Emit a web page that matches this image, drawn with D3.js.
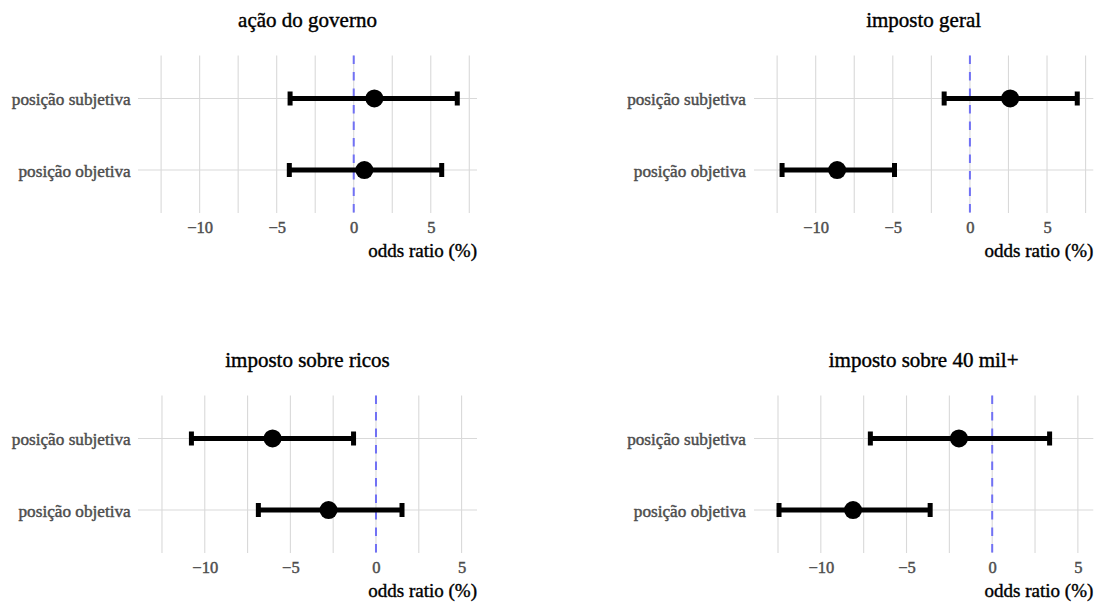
<!DOCTYPE html>
<html>
<head>
<meta charset="utf-8">
<script src="https://cdn.jsdelivr.net/npm/d3@7"></script>
<style>
  html, body { margin: 0; padding: 0; background: #ffffff; }
  svg text { font-family: "Liberation Serif", "DejaVu Serif", serif; }
</style>
</head>
<body>
<svg id="chart" width="1099" height="607"></svg>
<script>
// Facet titles (one small chart per policy question)
const panelTitles = ["ação do governo", "imposto geral", "imposto sobre ricos", "imposto sobre 40 mil+"];
// Predictor categories, top to bottom
const positions = ["posição subjetiva", "posição objetiva"];

// Estimates and 95% interval bounds, in %, per panel
const subjEstimate = [1.34, 2.61, -6.04, -1.94];
const subjLower    = [-4.13, -1.67, -10.78, -7.11];
const subjUpper    = [6.72, 6.96, -1.31, 3.35];
const objEstimate  = [0.69, -8.61, -2.77, -8.12];
const objLower     = [-4.18, -12.18, -6.87, -12.44];
const objUpper     = [5.71, -4.89, 1.52, -3.62];

// x limits per panel (before 5% expansion)
const xLimits = [[-13, 7], [-13, 7], [-13, 5], [-13, 5]];
const majorTicks = [-10, -5, 0, 5];
const minorTicks = [-12.5, -7.5, -2.5, 2.5, 7.5];
const axisTitle = "odds ratio (%)";

const svg = d3.select("#chart");

// Panel frames: left/right columns, top/bottom rows
const colX = [[138, 477], [754, 1093.3]];
const rowY = [[55.5, 213], [395.5, 553]];
const labelRight = [130.7, 746];

// slightly heavier text strokes
function weigh(sel, color, w) {
  return sel.attr("fill", color).attr("stroke", color).attr("stroke-width", w)
    .attr("paint-order", "stroke");
}

panelTitles.forEach((title, i) => {
  const col = i % 2, row = Math.floor(i / 2);
  const [x0, x1] = colX[col];
  const [y0, y1] = rowY[row];
  const lim = xLimits[i];
  const pad = (lim[1] - lim[0]) * 0.05;
  const x = d3.scaleLinear().domain([lim[0] - pad, lim[1] + pad]).range([x0, x1]);
  const y = d3.scalePoint().domain(positions).range([y0, y1]).padding(0.6);
  const g = svg.append("g");

  const inDomain = v => v >= x.domain()[0] && v <= x.domain()[1];

  // grid
  g.selectAll(".vgrid").data(majorTicks.concat(minorTicks).filter(inDomain)).join("line")
    .attr("x1", d => x(d)).attr("x2", d => x(d))
    .attr("y1", y0).attr("y2", y1)
    .attr("stroke", "#d9d9d9").attr("stroke-width", 1.1);
  g.selectAll(".hgrid").data(positions).join("line")
    .attr("x1", x0).attr("x2", x1)
    .attr("y1", d => y(d)).attr("y2", d => y(d))
    .attr("stroke", "#d9d9d9").attr("stroke-width", 1.1);

  // reference line at zero
  g.append("line")
    .attr("x1", x(0)).attr("x2", x(0)).attr("y1", y0).attr("y2", y1)
    .attr("stroke", "#7171f4").attr("stroke-width", 2)
    .attr("stroke-dasharray", "8.5,8");

  // interval + estimate
  const rows = [
    { pos: positions[0], est: subjEstimate[i], lo: subjLower[i], hi: subjUpper[i] },
    { pos: positions[1], est: objEstimate[i],  lo: objLower[i],  hi: objUpper[i] }
  ];
  const capH = 7;
  g.selectAll(".bar").data(rows).join("path")
    .attr("d", d => {
      const yy = y(d.pos), a = x(d.lo), b = x(d.hi);
      return `M${a},${yy - capH}L${a},${yy + capH}M${a},${yy}L${b},${yy}M${b},${yy - capH}L${b},${yy + capH}`;
    })
    .attr("fill", "none").attr("stroke", "#000").attr("stroke-width", 5);
  g.selectAll(".pt").data(rows).join("circle")
    .attr("cx", d => x(d.est)).attr("cy", d => y(d.pos)).attr("r", 9)
    .attr("fill", "#000");

  // x tick labels
  const ax = g.append("g").attr("transform", `translate(0,${y1})`)
    .call(d3.axisBottom(x).tickValues(majorTicks.filter(inDomain))
      .tickSize(0).tickPadding(0).tickFormat(d => d < 0 ? "\u2212" + Math.abs(d) : String(d)));
  ax.select(".domain").remove();
  weigh(ax.selectAll("text").attr("dy", null).attr("y", 20)
    .attr("font-size", 16.5)
    .attr("font-family", '"Liberation Serif", serif'), "#4d4d4d", 0.45);

  // y category labels
  weigh(g.selectAll(".ylab").data(positions).join("text")
    .attr("x", labelRight[col]).attr("y", d => y(d) + 6.5)
    .attr("text-anchor", "end").attr("font-size", 17.2)
    .text(d => d), "#4d4d4d", 0.45);

  // axis title
  weigh(g.append("text").attr("x", x1).attr("y", y1 + 44)
    .attr("text-anchor", "end").attr("font-size", 19)
    .text(axisTitle), "#000", 0.4);

  // facet title
  weigh(g.append("text").attr("x", (x0 + x1) / 2).attr("y", y0 - 28.5)
    .attr("text-anchor", "middle").attr("font-size", 21)
    .text(title), "#000", 0.4);
});
</script>
</body>
</html>
